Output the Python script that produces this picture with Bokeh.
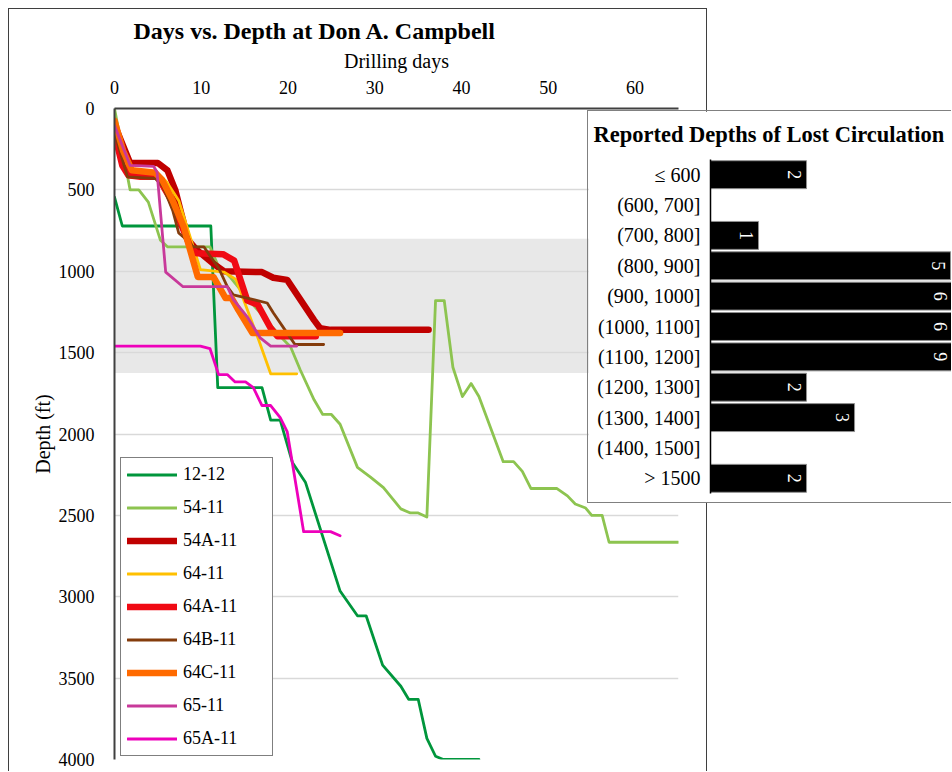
import numpy as np
from bokeh.plotting import figure
from bokeh.models import (Range1d, FactorRange, FixedTicker, BoxAnnotation,
                          Legend, LegendItem)
from bokeh.embed import file_html
from bokeh.resources import INLINE
from bokeh.core.properties import value

# ---------------- data ----------------
TITLE = "Days vs. Depth at Don A. Campbell"
X_LABEL = "Drilling days"
Y_LABEL = "Depth (ft)"
X_TICKS = [0, 10, 20, 30, 40, 50, 60]
Y_TICKS = [0, 500, 1000, 1500, 2000, 2500, 3000, 3500, 4000]
LOSS_BAND = [800, 1625]   # shaded depth interval (ft)

days_12_12 = [0, 0.9, 11.1, 11.9, 17, 18, 19.1, 20.5, 22, 26, 28, 29, 30.9, 33, 33.9, 35, 36, 37, 37.9, 42]
depth_12_12 = [545, 722, 722, 1715, 1715, 1915, 1915, 2175, 2296, 2965, 3117, 3117, 3420, 3550, 3630, 3630, 3870, 3980, 4000, 4000]

days_54_11 = [0, 1.8, 2.8, 3.9, 5.3, 6.1, 11, 11.9, 13.4, 15.3, 17.2, 19.1, 20.3, 21.4, 23, 24, 25, 26, 28,
              29.5, 31, 33, 34.1, 35, 36, 37, 38, 39, 40.1, 41.1, 42, 44.8, 46, 47, 48, 51, 52.2, 53.1,
              54.3, 55, 56.2, 57, 65]
depth_54_11 = [0, 500, 500, 575, 810, 850, 850, 960, 1040, 1165, 1280, 1400, 1465, 1605, 1790, 1880, 1880, 1940, 2205,
               2265, 2330, 2460, 2485, 2485, 2510, 1180, 1180, 1590, 1770, 1690, 1770, 2170, 2170, 2230, 2335, 2335, 2380, 2430,
               2455, 2500, 2500, 2665, 2665]

days_54A_11 = [0, 1.8, 5, 6.1, 7, 7.6, 8.5, 9.5, 11.3, 12.6, 17, 18.3, 19.9, 23, 23.7, 24.9, 36.2]
depth_54A_11 = [100, 335, 335, 380, 500, 625, 808, 870, 950, 1000, 1005, 1040, 1053, 1300, 1350, 1360, 1360]

days_64_11 = [0, 1, 2, 5, 6, 7.4, 9.9, 12.6, 14, 16.6, 18, 21]
depth_64_11 = [100, 330, 400, 400, 450, 565, 990, 1005, 1050, 1420, 1630, 1630]

days_64A_11 = [0, 0.9, 1.6, 3, 5, 6.5, 8.8, 9.5, 12.5, 13.8, 15.3, 16.5, 18, 18.8, 23.2]
depth_64A_11 = [155, 350, 410, 420, 420, 560, 857, 890, 895, 935, 1180, 1205, 1350, 1400, 1400]

days_64B_11 = [0, 1.5, 4.7, 5.6, 6.7, 7.4, 8.4, 9.1, 10.3, 11, 12, 13, 13.7, 15.3, 17.6, 18.3, 19.9, 20.8, 24.1]
depth_64B_11 = [150, 420, 430, 480, 625, 765, 810, 850, 850, 905, 980, 1095, 1145, 1165, 1195, 1255, 1380, 1450, 1450]

days_64C_11 = [0, 1, 2, 4.7, 5.5, 6.7, 8, 8.4, 9.6, 11.4, 12.8, 13.5, 14.3, 15.9, 26]
depth_64C_11 = [75, 260, 380, 395, 440, 565, 730, 810, 1035, 1035, 1165, 1165, 1240, 1380, 1380]

days_65_11 = [0, 1.8, 4.5, 4.9, 5.9, 7.9, 13, 13.7, 15.3, 16.8, 18, 21]
depth_65_11 = [105, 350, 355, 390, 1005, 1095, 1095, 1175, 1280, 1410, 1460, 1460]

days_65A_11 = [0, 9.9, 11, 12, 13, 13.9, 15.1, 16, 17, 18, 19.1, 19.9, 21.8, 24.9, 26]
depth_65A_11 = [1460, 1460, 1475, 1635, 1635, 1680, 1680, 1715, 1825, 1825, 1900, 1985, 2600, 2600, 2625]

well_names = ["12-12", "54-11", "54A-11", "64-11", "64A-11", "64B-11", "64C-11", "65-11", "65A-11"]
well_days = [days_12_12, days_54_11, days_54A_11, days_64_11, days_64A_11,
             days_64B_11, days_64C_11, days_65_11, days_65A_11]
well_depths = [depth_12_12, depth_54_11, depth_54A_11, depth_64_11, depth_64A_11,
               depth_64B_11, depth_64C_11, depth_65_11, depth_65A_11]
well_colors = ["#00963C", "#8DC450", "#C00000", "#FFC000", "#F00A14",
               "#843C0C", "#FF6A00", "#C8399A", "#EE00BB"]
well_widths = [2.8, 2.8, 6.5, 2.8, 6.5, 2.8, 6.5, 2.8, 2.8]

INSET_TITLE = "Reported Depths of Lost Circulation"
depth_bins = ["≤ 600", "(600, 700]", "(700, 800]", "(800, 900]", "(900, 1000]",
              "(1000, 1100]", "(1100, 1200]", "(1200, 1300]", "(1300, 1400]",
              "(1400, 1500]", "> 1500"]
bin_counts = [2, 0, 1, 5, 6, 6, 9, 2, 3, 0, 2]

# ---------------- style ----------------
FONT = "Liberation Serif"
INSET_XMAX = 5.04

# ---------------- main chart ----------------
p = figure(width=699, height=763,
           x_range=Range1d(0, 65), y_range=Range1d(4000, 0),
           x_axis_location="above",
           output_backend="svg", toolbar_location=None,
           min_border_left=105, min_border_right=30,
           min_border_top=99, min_border_bottom=13,
           outline_line_color=None,
           margin=(8, 0, 0, 8),
           styles={"border-top": "1px solid #3f3f3f",
                   "border-left": "1px solid #3f3f3f",
                   "border-right": "1px solid #3f3f3f"})

p.title.text = TITLE
p.title.text_font = FONT
p.title.text_font_size = "24px"
p.title.text_font_style = "bold"
p.title.align = "left"
p.title.offset = 19
p.title.standoff = 6
p.title.text_color = "black"

p.xaxis.ticker = FixedTicker(ticks=X_TICKS)
p.yaxis.ticker = FixedTicker(ticks=Y_TICKS)
p.xaxis.axis_label = X_LABEL
p.yaxis.axis_label = Y_LABEL
for ax in (p.xaxis, p.yaxis):
    ax.axis_label_text_font = FONT
    ax.axis_label_text_font_size = "20px"
    ax.axis_label_text_font_style = "normal"
    ax.axis_label_text_color = "black"
    ax.major_label_text_font = FONT
    ax.major_label_text_font_size = "18px"
    ax.major_label_text_color = "black"
    ax.major_tick_line_color = None
    ax.minor_tick_line_color = None
    ax.axis_line_color = "#404040"
    ax.axis_line_width = 2
p.xaxis.major_label_standoff = 9
p.xaxis.axis_label_standoff = 6
p.yaxis.major_label_standoff = 14
p.yaxis.axis_label_standoff = 2

p.xgrid.grid_line_color = None
p.ygrid.grid_line_color = "#D9D9D9"
p.ygrid.grid_line_width = 1.5

band = BoxAnnotation(top=LOSS_BAND[0], bottom=LOSS_BAND[1], fill_color="#E8E8E8",
                     fill_alpha=1.0, line_color=None, level="image")
p.add_layout(band)

items = []
for name, d, z, c, w in zip(well_names, well_days, well_depths, well_colors, well_widths):
    r = p.line(d, z, line_color=c, line_width=w, line_join="round", line_cap="round")
    items.append(LegendItem(label=name, renderers=[r]))

legend = Legend(items=items, location=(6, 3), margin=0, padding=6,
                spacing=12, glyph_width=50, glyph_height=21, label_height=21,
                label_width=83, label_standoff=6,
                label_text_font=FONT, label_text_font_size="18px", label_text_color="black",
                border_line_color="black", border_line_width=1.5,
                background_fill_color="white", background_fill_alpha=1.0)
p.add_layout(legend)

# ---------------- inset bar chart ----------------
q = figure(width=364, height=393,
           y_range=FactorRange(factors=list(reversed(depth_bins))),
           x_range=Range1d(0, INSET_XMAX),
           x_axis_location=None,
           output_backend="svg", toolbar_location=None,
           min_border_left=122, min_border_right=0,
           min_border_top=48, min_border_bottom=11,
           outline_line_color=None,
           styles={"position": "absolute", "left": "587px", "top": "110px",
                   "border-top": "1px solid #808080",
                   "border-left": "1px solid #808080",
                   "border-bottom": "1px solid #808080"})

q.title.text = INSET_TITLE
q.title.text_font = FONT
q.title.text_font_size = "22.5px"
q.title.text_font_style = "bold"
q.title.align = "left"
q.title.vertical_align = "top"
q.title.offset = -117
q.title.standoff = 21
q.title.text_color = "black"

q.xgrid.grid_line_color = None
q.ygrid.grid_line_color = None
q.yaxis.major_label_text_font = FONT
q.yaxis.major_label_text_font_size = "20px"
q.yaxis.major_label_text_color = "black"
q.yaxis.major_tick_line_color = None
q.yaxis.minor_tick_line_color = None
q.yaxis.axis_line_color = "black"
q.yaxis.axis_line_width = 1.5
q.yaxis.major_label_standoff = 4

nz_bins = [b for b, c in zip(depth_bins, bin_counts) if c > 0]
nz_counts = [c for c in bin_counts if c > 0]
q.hbar(y=nz_bins, left=0, right=nz_counts, height=0.92,
       fill_color="black", line_color="#909090", line_width=1)
q.text(x=list(np.minimum(nz_counts, INSET_XMAX)), y=nz_bins, text=[str(c) for c in nz_counts],
       angle=-np.pi / 2, x_offset=-12, text_color="white",
       text_font=value(FONT), text_font_size="18px",
       text_align="center", text_baseline="middle")

open("out.html", "w").write(file_html([p, q], INLINE))
